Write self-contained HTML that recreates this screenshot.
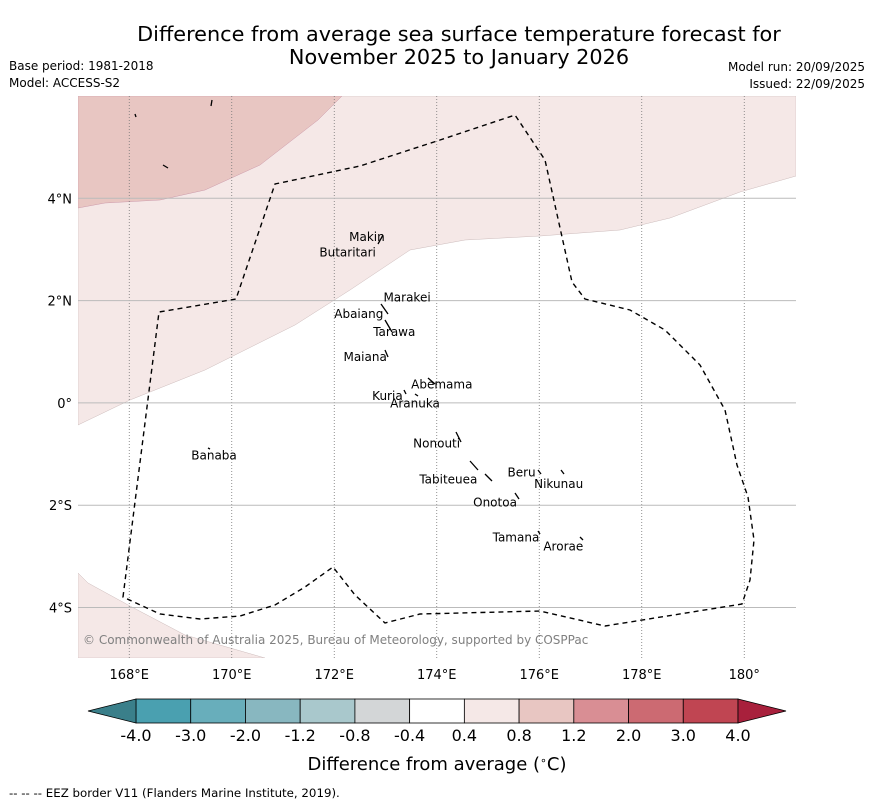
<!DOCTYPE html>
<html><head><meta charset="utf-8"><style>
body{margin:0;background:#fff;width:873px;height:804px;overflow:hidden;font-family:"Liberation Sans","DejaVu Sans",sans-serif}
svg text{font-family:"DejaVu Sans","Liberation Sans",sans-serif}
</style></head><body>
<svg id="chart" width="873" height="804" xmlns="http://www.w3.org/2000/svg">
<text x="459" y="41" font-size="20.8" text-anchor="middle">Difference from average sea surface temperature forecast for</text>
<text x="459" y="64" font-size="20.8" text-anchor="middle">November 2025 to January 2026</text>
<text x="9" y="70" font-size="12">Base period: 1981-2018</text>
<text x="9" y="87" font-size="12">Model: ACCESS-S2</text>
<text x="865" y="71" font-size="12" text-anchor="end">Model run: 20/09/2025</text>
<text x="865" y="88" font-size="12" text-anchor="end">Issued: 22/09/2025</text>
<defs><clipPath id="mapclip"><rect x="78" y="96" width="718" height="562"/></clipPath></defs>
<g id="map" clip-path="url(#mapclip)">
<rect x="78" y="96" width="718" height="562" fill="#fff"/>
<polygon fill="#f5e8e7" stroke="#cbb" stroke-width="0.5" points="78,425 130,400 205,370 255,345 295,325 350,290 410,250 465,240 540,236 620,230 670,218 740,192 796,176 796,96 78,96"/>
<polygon fill="#e8c6c2" stroke="#c9a" stroke-width="0.5" points="78,208 105,203 160,200 205,190 260,165 318,120 342,96 78,96"/>
<polygon fill="#f5e8e7" stroke="#cbb" stroke-width="0.5" points="78,573 88,583 130,606 185,635 265,658 78,658"/>
<g id="grid"></g>
<polygon fill="none" stroke="#000" stroke-width="1.4" stroke-dasharray="5,4" points="123,597 159,312 236,299 275,184 360,166 440,140 515,115 545,160 572,282 585,299 630,310 665,330 700,365 725,410 737,465 748,497 754,540 750,580 742,604 605,626 540,611 420,614 385,623 355,595 333,567 305,587 275,605 240,616 200,619 160,614 123,597"/>
<g id="islands" stroke="#000" stroke-width="1.3" fill="none"></g>
<g id="labels" font-size="12"></g>
<text x="83" y="644" font-size="12" fill="#808080">© Commonwealth of Australia 2025, Bureau of Meteorology, supported by COSPPac</text>
</g>
<g id="axes" font-size="13"></g>
<g id="colorbar"></g>
<text x="437" y="770" font-size="18" text-anchor="middle">Difference from average (<tspan font-size="11" dy="-6">∘</tspan><tspan dy="6">C)</tspan></text>
<text x="9" y="797" font-size="11.8">--  --  -- EEZ border V11 (Flanders Marine Institute, 2019).</text>
</svg>
<script>
const lonTicks=[168,170,172,174,176,178,180];
const lonLabels=["168°E","170°E","172°E","174°E","176°E","178°E","180°"];
const latTicks=[4,2,0,-2,-4];
const latLabels=["4°N","2°N","0°","2°S","4°S"];
const islandNames=["Makin","Butaritari","Marakei","Abaiang","Tarawa","Maiana","Abemama","Kuria","Aranuka","Nonouti","Banaba","Beru","Tabiteuea","Nikunau","Onotoa","Tamana","Arorae"];
const islandLon=[172.29,171.71,172.96,172.0,172.76,172.18,173.5,172.74,173.09,173.54,169.21,175.38,173.66,175.9,174.71,175.09,176.08];
const islandLat=[3.17,2.86,1.98,1.66,1.31,0.82,0.28,0.06,-0.09,-0.875,-1.11,-1.44,-1.58,-1.66,-2.03,-2.71,-2.89];
const cbLevels=["-4.0","-3.0","-2.0","-1.2","-0.8","-0.4","0.4","0.8","1.2","2.0","3.0","4.0"];
const cbColors=["#4aa0b0","#68aebb","#88b7c0","#a9c8cc","#d3d6d7","#ffffff","#f5e8e7","#e8c6c2","#d98e94","#cc6a72","#c04552"];
const cbLow="#3a7f8a", cbHigh="#a8203c";
const NS="http://www.w3.org/2000/svg";
const x=lon=>78+(lon-167)*51.25;
const y=lat=>96+(6-lat)*51.15;
function mk(tag,attrs,parent,txt){const e=document.createElementNS(NS,tag);for(const k in attrs)e.setAttribute(k,attrs[k]);if(txt!==undefined)e.textContent=txt;parent.appendChild(e);return e;}
const grid=document.getElementById('grid'),axes=document.getElementById('axes');
lonTicks.forEach((t,i)=>{
 const l=mk('line',{x1:x(t),x2:x(t),y1:96,y2:658,stroke:'#777','stroke-width':0.8,'stroke-dasharray':'1,2'},grid);
 
 
 const tx=mk('text',{x:x(t),y:679,'text-anchor':'middle'},axes,lonLabels[i]);
 
 
});
latTicks.forEach((t,i)=>{
 const l=mk('line',{x1:78,x2:796,y1:y(t),y2:y(t),stroke:'#bbb','stroke-width':1},grid);
 
 
 const tx=mk('text',{x:72,y:y(t)+5,'text-anchor':'end'},axes,latLabels[i]);
 
 
});
const lab=document.getElementById('labels'),isl=document.getElementById('islands');
islandNames.forEach((n,i)=>{
 const t=mk('text',{x:x(islandLon[i]),y:y(islandLat[i])},lab,n);
 
 
});
const shapes=[[383,235,378,244],[381,304,388,314],[385,320,392,332],[385,350,388,357],[428,378,435,384],[404,390,406,394],[415,394,418,396],[456,432,461,442],[470,461,478,470],[485,474,492,481],[515,493,519,499],[538,470,541,474],[561,470,564,474],[538,531,540,534],[580,537,583,540],[208,448,210,449],[135,114,136,117],[212,100,211,106],[163,165,168,168]];
shapes.forEach(s=>{
 const p=mk('line',{x1:s[0],y1:s[1],x2:s[2],y2:s[3]},isl);
 
 
});
const cb=document.getElementById('colorbar');
const cx0=136,cx1=738,cy=699,ch=24,w=(cx1-cx0)/cbColors.length;
cbColors.forEach((c,i)=>{
 const r=mk('rect',{x:cx0+i*w,y:cy,width:w,height:ch,fill:c,stroke:'#000','stroke-width':0.8},cb);
 
 
});
const lo=mk('polygon',{points:`${cx0},${cy} ${cx0},${cy+ch} 88,${cy+ch/2}`,fill:cbLow,stroke:'#000','stroke-width':0.8},cb);


const hi=mk('polygon',{points:`${cx1},${cy} ${cx1},${cy+ch} 786,${cy+ch/2}`,fill:cbHigh,stroke:'#000','stroke-width':0.8},cb);


cbLevels.forEach((v,i)=>{
 const t=mk('text',{x:cx0+i*w,y:741,'font-size':16,'text-anchor':'middle'},cb,v);
 
 
});
</script>
</body></html>
